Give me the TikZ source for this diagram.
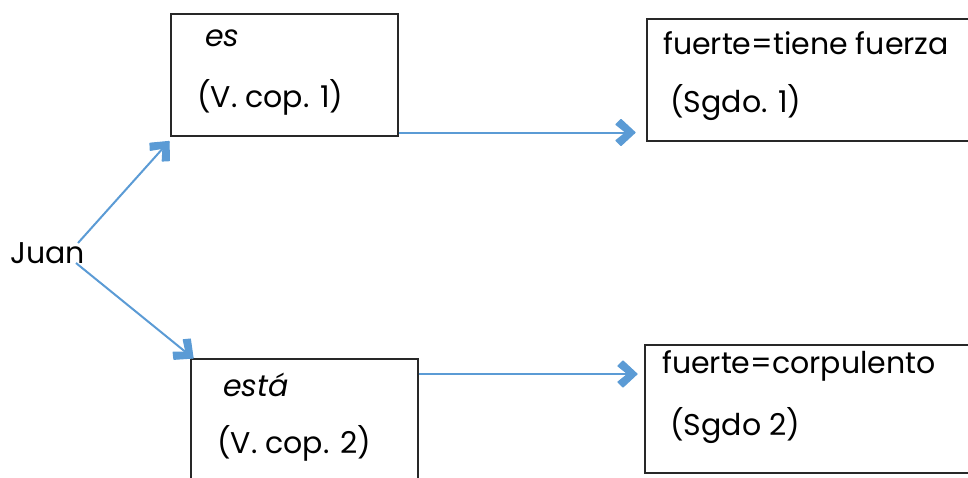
\documentclass[tikz,border=0pt]{standalone}
\usepackage{fontspec}
\setmainfont{Poppins}
\usetikzlibrary{decorations.markings}
\definecolor{arrowblue}{RGB}{91,155,213}
\definecolor{boxline}{RGB}{40,40,40}
\begin{document}
\begin{tikzpicture}[x=1pt,y=-1pt,
  box/.style={draw=boxline,line width=1.5pt,inner sep=0pt,anchor=north west},
  txt/.style={anchor=west,inner sep=0pt,font=\fontsize{30}{36}\selectfont},
  arr/.style={draw=arrowblue,line width=2pt,
    postaction={decorate},
    decoration={markings,mark=at position 1 with {
      \fill[arrowblue,draw=arrowblue,line width=1.2pt,line join=round]
        (0pt,0pt) -- (-14pt,-13pt) -- (-19pt,-8pt) -- (-9pt,0pt)
        -- (-19pt,8pt) -- (-14pt,13pt) -- cycle;}}}]
\useasboundingbox (0,0) rectangle (968,477);
\clip (0,0) rectangle (968,477);
% boxes
\node[box,minimum width=227pt,minimum height=122pt] (b1) at (170,13) {};
\node[box,minimum width=360pt,minimum height=122pt] (b2) at (646,18) {};
\node[box,minimum width=227pt,minimum height=140pt] (b3) at (190,358) {};
\node[box,minimum width=360pt,minimum height=128pt] (b4) at (644,344) {};
% texts
\node[txt] (t1a) at (205,38) {\itshape es};
\node[txt] (t1b) at (197,97) {(V. cop. 1)};
\node[txt] (t2a) at (663,43) {fuerte=tiene fuerza};
\node[txt] (t2b) at (670,103) {(Sgdo. 1)};
\node[txt] (t3a) at (223,385) {\itshape está};
\node[txt] (t3b) at (217,443) {(V. cop. 2)};
\node[txt] (t4a) at (662,366) {fuerte=corpulento};
\node[txt] (t4b) at (670,426) {(Sgdo 2)};
\node[txt] (juan) at (10,253) {Juan};
% connectors
\coordinate (j1) at (78,243);
\coordinate (j2) at (76,263);
\draw[arr] (j1) -- ([xshift=-1pt,yshift=-5pt]b1.south west);
\draw[arr] (j2) -- ([xshift=3pt]b3.north west);
\draw[arr] ([yshift=4pt]b1.south east) -- ([xshift=-11pt,yshift=4pt]b1.south east -| b2.west);
\draw[arr] ([yshift=-16pt]b3.north east) -- ([xshift=-7pt,yshift=-16pt]b3.north east -| b4.west);
\end{tikzpicture}
\end{document}
